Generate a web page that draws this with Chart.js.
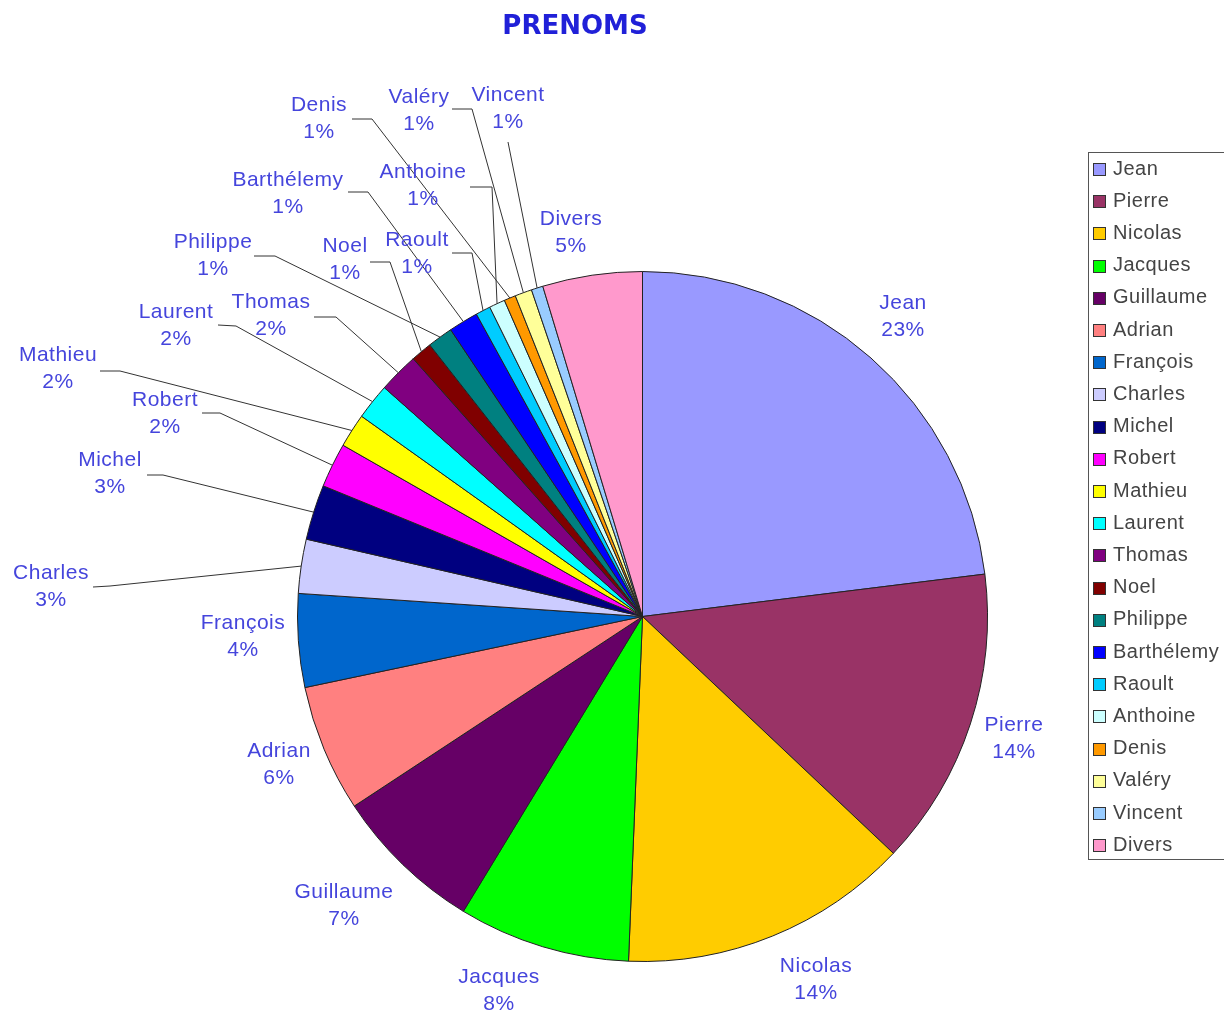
<!DOCTYPE html>
<html>
<head>
<meta charset="utf-8">
<title>PRENOMS</title>
<script src="https://cdn.jsdelivr.net/npm/chart.js@4.4.1/dist/chart.umd.min.js"></script>
<style>
  html, body { margin: 0; padding: 0; background: #fff; }
  canvas { display: block; }
</style>
</head>
<body>
<canvas id="prenomsChart" width="1224" height="1010"></canvas>
<script>
    // values (share of each first name)
    const names = ['Jean', 'Pierre', 'Nicolas', 'Jacques', 'Guillaume', 'Adrian', 'François', 'Charles',
      'Michel', 'Robert', 'Mathieu', 'Laurent', 'Thomas', 'Noel', 'Philippe', 'Barthélemy',
      'Raoult', 'Anthoine', 'Denis', 'Valéry', 'Vincent', 'Divers'];
    const shares = [23.2, 14.1, 13.7, 8.1, 7.1, 6.0, 4.4, 2.55,
      2.6, 2.1, 1.6, 1.7, 1.9, 1.0, 1.2, 1.4,
      0.7, 0.75, 0.55, 0.8, 0.55, 4.7];

    const colors = ['#9999ff', '#993366', '#ffcc00', '#00ff00', '#660066', '#ff8080', '#0066cc', '#ccccff',
      '#000080', '#ff00ff', '#ffff00', '#00ffff', '#800080', '#800000', '#008080', '#0000ff',
      '#00ccff', '#ccffff', '#ff9900', '#ffff99', '#99ccff', '#ff99cc'];

    // where Excel put each data label (centre of the name line)
    const labelPos = [[903, 303], [1014, 725], [816, 966], [499, 977], [344, 892], [279, 751], [243, 623], [51, 573],
      [110, 460], [165, 400], [58, 355], [176, 312], [271, 302], [345, 246], [213, 242], [288, 180],
      [417, 240], [423, 172], [319, 105], [419, 97], [508, 95], [571, 219]];
    // leader line start + elbow, the end is taken from the slice
    const leaders = [null, null, null, null, null, null, null, [93, 587, 110, 586],
      [147, 475, 163, 475], [202, 413, 220, 413], [100, 371, 120, 371], [218, 325, 236, 326],
      [314, 317, 336, 317], [370, 262, 390, 262], [254, 256, 275, 256], [348, 192, 368, 192],
      [452, 253, 472, 253], [470, 187, 492, 187], [352, 119, 372, 119], [452, 109, 472, 109],
      [508, 142, 508, 142], null];

    const labelFont = "21px 'Liberation Sans', Arial, sans-serif";

    const excelLook = {
      id: 'excelLook',
      afterDraw(chart) {
        const c = chart.ctx;
        const ds = chart.data.datasets[0];
        const total = ds.data.reduce((a, b) => a + b, 0);
        const arcs = chart.getDatasetMeta(0).data;

        c.save();
        // title
        c.fillStyle = '#2020d8';
        c.font = "bold 26px 'DejaVu Sans', Verdana, sans-serif";
        c.textAlign = 'center';
        c.textBaseline = 'middle';
        c.fillText('PRENOMS', 575, 27);

        // leader lines
        c.strokeStyle = '#333';
        c.lineWidth = 1;
        arcs.forEach((arc, i) => {
          const l = leaders[i];
          if (!l) return;
          const p = arc.getProps(['x', 'y', 'startAngle', 'endAngle', 'outerRadius'], true);
          const mid = (p.startAngle + p.endAngle) / 2;
          const ex = p.x + Math.cos(mid) * p.outerRadius;
          const ey = p.y + Math.sin(mid) * p.outerRadius;
          c.beginPath();
          c.moveTo(l[0], l[1]);
          c.lineTo(l[2], l[3]);
          c.lineTo(ex, ey);
          c.stroke();
        });

        // data labels
        c.fillStyle = '#4545dc';
        c.font = labelFont;
        c.letterSpacing = '0.5px';
        chart.data.labels.forEach((name, i) => {
          const pct = Math.round(ds.data[i] / total * 100) + '%';
          c.fillText(name, labelPos[i][0], labelPos[i][1]);
          c.fillText(pct, labelPos[i][0], labelPos[i][1] + 27);
        });

        // legend box
        c.strokeStyle = '#555';
        c.strokeRect(1088.5, 152.5, 200, 707);
        c.textAlign = 'left';
        c.font = "20px 'Liberation Sans', Arial, sans-serif";
        chart.data.labels.forEach((name, i) => {
          const y = 169 + i * 32.2;
          c.fillStyle = ds.backgroundColor[i];
          c.fillRect(1093, Math.round(y) - 6, 13, 13);
          c.strokeStyle = '#333';
          c.strokeRect(1093.5, Math.round(y) - 5.5, 12, 12);
          c.fillStyle = '#444';
          c.fillText(name, 1113, y);
        });
        c.restore();
      }
    };

    const ctx = document.getElementById('prenomsChart').getContext('2d');
    const prenomsChart = new Chart(ctx, {
      type: 'pie',
      data: {
        labels: names,
        datasets: [{
          data: shares,
          backgroundColor: colors,
          borderColor: '#222',
          borderWidth: 1,
        }]
      },
      options: {
        responsive: false,
        animation: false,
        devicePixelRatio: 1,
        layout: {
          padding: { left: 297, right: 236, top: 271, bottom: 48 },
        },
        plugins: {
          legend: { display: false },
          tooltip: { enabled: false },
        },
      },
      plugins: [excelLook],
    });
</script>
</body>
</html>
